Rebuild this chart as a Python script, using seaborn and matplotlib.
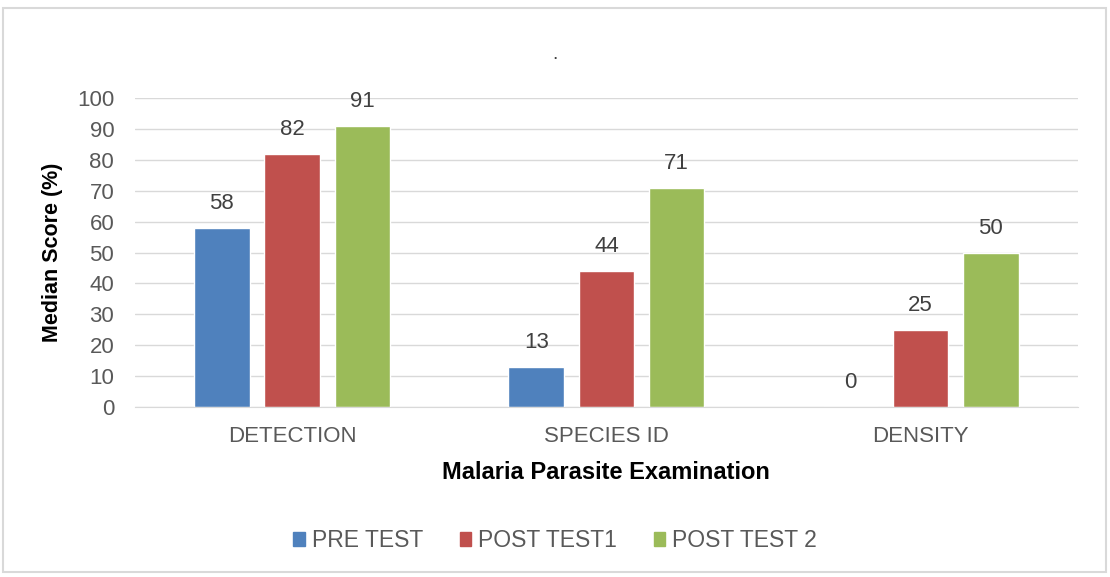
import matplotlib.pyplot as plt
import matplotlib.patches as mpatches
import seaborn as sns
import pandas as pd

# values
categories = ["DETECTION", "SPECIES ID", "DENSITY"]
series = ["PRE TEST", "POST TEST1", "POST TEST 2"]
pre_test = [58, 13, 0]
post_test1 = [82, 44, 25]
post_test2 = [91, 71, 50]
colors = ["#4F81BD", "#C0504D", "#9BBB59"]

rows = []
for name, vals in zip(series, [pre_test, post_test1, post_test2]):
    for cat, v in zip(categories, vals):
        rows.append({"Exam": cat, "Test": name, "Score": v})
df = pd.DataFrame(rows)

sns.set_style("white")
plt.rcParams["font.family"] = ["Liberation Sans", "DejaVu Sans"]

fig = plt.figure(figsize=(11.1, 5.77), dpi=100)
ax = fig.add_axes([0.1216, 0.2946, 0.8494, 0.5354])

sns.barplot(data=df, x="Exam", y="Score", hue="Test", order=categories,
            hue_order=series, palette=colors, width=0.67, gap=0.21,
            saturation=1, ax=ax, legend=False)

ax.set_ylim(0, 100)
ax.set_xlim(-0.5, 2.5)
ax.set_yticks(range(0, 101, 10))
ax.yaxis.grid(True, color="#D9D9D9", linewidth=1)
ax.set_axisbelow(True)
for s in ["top", "right", "left"]:
    ax.spines[s].set_visible(False)
ax.spines["bottom"].set_color("#D9D9D9")
ax.tick_params(axis="both", length=0, labelsize=16, colors="#595959")
ax.tick_params(axis="y", pad=15)
ax.tick_params(axis="x", pad=14)

for c in ax.containers:
    ax.bar_label(c, fmt="%d", padding=10, fontsize=16, color="#404040")

ax.set_ylabel("Median Score (%)", fontsize=15.5, fontweight="bold", color="black", labelpad=10)
ax.set_xlabel("Malaria Parasite Examination", fontsize=17, fontweight="bold", color="black", labelpad=10)

fig.text(0.5, 0.905, ".", ha="center", va="center", fontsize=14, color="#404040")

handles = [mpatches.Patch(color=col, label=lab) for col, lab in zip(colors, series)]
fig.legend(handles=handles, loc="center", bbox_to_anchor=(0.5, 0.063), ncol=3,
           frameon=False, fontsize=16.5, labelcolor="#595959", handlelength=0.5,
           handleheight=0.5, handletextpad=0.3, columnspacing=1.6)

border = mpatches.Rectangle((0.003, 0.008), 0.993, 0.978, transform=fig.transFigure,
                            fill=False, edgecolor="#D9D9D9", linewidth=1.5)
fig.patches.append(border)

fig.savefig("out.png", dpi=100)
